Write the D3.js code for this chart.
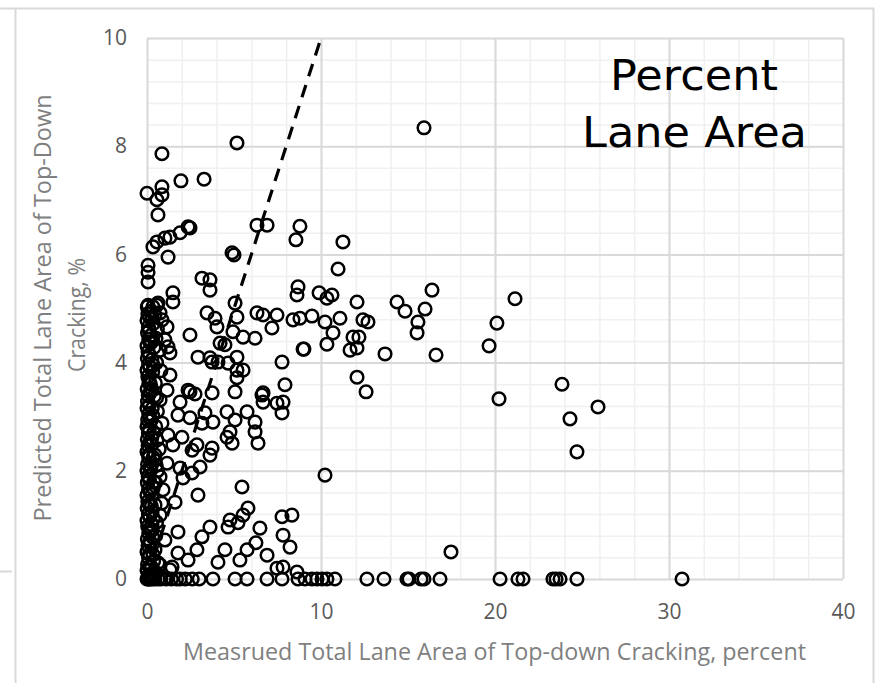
<!DOCTYPE html>
<html>
<head>
<meta charset="utf-8">
<script src="https://cdn.jsdelivr.net/npm/d3@7"></script>
<style>
  html, body { margin: 0; padding: 0; background: #fff; }
  svg { display: block; }
  .tick text { font-family: "Liberation Sans Narrow", "Open Sans", "Liberation Sans", sans-serif; fill: #595959; }
</style>
</head>
<body>
<svg id="chart" width="877" height="683"></svg>
<script>
// Measured vs predicted total lane area of top-down cracking (percent).
// Each entry is [measured %, predicted %].

// Tall, tightly packed column of sections with almost no measured cracking
const nearZeroMeasured = [
  [0.02,5.03],[0.05,4.9],[0.0,4.78],[0.08,4.66],[0.03,4.55],[0.1,4.43],[0.0,4.31],[0.06,4.2],
  [0.02,4.08],[0.09,3.97],[0.0,3.86],[0.05,3.74],[0.11,3.62],[0.01,3.51],[0.07,3.4],[0.03,3.28],
  [0.0,3.16],[0.1,3.05],[0.04,2.94],[0.0,2.82],[0.08,2.7],[0.02,2.58],[0.06,2.47],[0.0,2.35],
  [0.1,2.24],[0.03,2.12],[0.0,2.0],[0.07,1.9],[0.02,1.78],[0.09,1.66],[0.0,1.55],[0.05,1.43],
  [0.01,1.31],[0.08,1.2],[0.0,1.08],[0.04,0.97],[0.1,0.85],[0.02,0.74],[0.06,0.62],[0.0,0.5],
  [0.09,0.39],[0.03,0.27],[0.0,0.16],[0.07,0.06],
  [0.15,4.84],[0.13,4.6],[0.17,4.37],[0.14,4.14],[0.16,3.92],[0.12,3.68],[0.18,3.45],[0.14,3.22],
  [0.15,2.99],[0.13,2.76],[0.17,2.53],[0.12,2.3],[0.16,2.07],[0.14,1.84],[0.18,1.61],[0.13,1.38],
  [0.16,1.15],[0.12,0.92],[0.17,0.69],[0.14,0.46],[0.15,0.23],[0.12,0.08],
  [0.25,4.95],[0.35,4.72],[0.22,4.5],[0.4,4.28],[0.28,4.05],[0.33,3.83],[0.2,3.6],[0.42,3.38],
  [0.3,3.15],[0.24,2.93],[0.38,2.7],[0.27,2.48],[0.35,2.25],[0.22,2.02],[0.4,1.8],[0.3,1.57],
  [0.25,1.35],[0.37,1.12],[0.28,0.9],[0.2,0.67],[0.34,0.45],[0.26,0.22],[0.4,0.1],
  [0.3,4.83],[0.26,4.38],[0.36,3.95],[0.29,3.5],[0.33,3.02],[0.27,2.6],[0.31,2.14],[0.36,1.68],
  [0.29,1.24],[0.32,0.78],[0.38,0.33],
  [0.57,5.06],[0.75,4.92],[0.6,4.62],[1.03,4.42],[0.75,4.23],[0.55,4.0],[0.8,3.85],[1.15,3.49],
  [0.75,3.31],[0.6,3.1],[0.86,2.88],[0.57,2.57],[0.7,2.4],[0.46,2.29],[0.92,1.65],[0.6,2.0],
  [0.46,1.37],[0.75,1.18],[0.29,1.0],[1.03,0.72],[0.46,0.54],[0.75,0.26],[1.32,0.17],[1.03,0.02],
  [0.5,0.8],[0.85,1.4],[0.34,5.03],[0.63,5.1],[0.06,5.06],[0.46,4.88],[0.86,4.79],[1.15,4.66],
  [1.21,4.29],[1.32,4.18],[0.63,0.3],[1.44,0.22],
  [0.52,4.45],[0.48,3.62],[0.55,3.35],[0.5,2.82],[0.53,2.1],[0.49,1.78],[0.55,1.05],[0.52,0.12]
];

// Upper band: predictions above about 5 %
const upperBand = [
  [0.86,7.86],[1.95,7.36],[3.28,7.39],[5.17,8.06],[15.92,8.34],[0.86,7.25],[0.57,7.01],[0.86,7.1],
  [0.0,7.13],[0.63,6.73],[2.36,6.51],[2.47,6.49],[1.9,6.4],[1.32,6.32],[1.03,6.3],[0.57,6.23],
  [0.34,6.14],[1.21,5.95],[0.06,5.8],[0.06,5.67],[0.06,5.49],[6.32,6.54],[6.9,6.54],[8.79,6.52],
  [8.56,6.27],[4.89,6.03],[5.0,5.99],[3.16,5.56],[3.62,5.53],[3.62,5.34],[1.49,5.29],[1.49,5.12],
  [8.68,5.4],[8.62,5.25],[9.89,5.29],[10.34,5.19],[10.63,5.25],[11.26,6.23],[10.98,5.73],[12.07,5.12],
  [14.37,5.12],[14.83,4.95],[16.38,5.34],[15.98,4.99],[15.52,4.55],[15.57,4.75],[16.61,4.14],[21.15,5.18]
];

// Sections with measured cracking beyond 9 %
const highMeasured = [
  [20.11,4.73],[19.66,4.31],[20.23,3.33],[23.85,3.6],[24.31,2.96],[24.71,2.35],[25.92,3.18],
  [9.48,4.86],[8.79,4.82],[10.23,4.75],[11.09,4.82],[10.69,4.55],[10.34,4.34],[9.02,4.25],
  [11.67,4.23],[11.84,4.47],[12.18,4.47],[12.41,4.79],[12.7,4.75],[12.07,4.27],[13.68,4.16],
  [12.07,3.73],[12.59,3.46],[10.23,1.92],[17.47,0.5]
];

// Middle scatter: measured 1.5 % to 9 %
const midScatter = [
  [3.45,4.92],[3.91,4.82],[4.02,4.66],[5.06,5.1],[5.17,4.84],[6.32,4.92],[6.67,4.88],[7.47,4.88],
  [7.18,4.64],[8.39,4.79],[4.94,4.57],[5.52,4.47],[6.21,4.45],[2.47,4.51],[4.2,4.36],[4.48,4.33],
  [2.93,4.1],[3.62,4.09],[3.74,4.01],[4.08,4.01],[4.66,3.99],[5.17,4.1],[5.17,3.86],[5.52,3.86],
  [5.17,3.72],[7.76,4.01],[8.97,4.25],[1.32,3.77],[7.93,3.59],[5.06,3.46],[6.67,3.44],[3.74,3.44],
  [2.47,3.46],[2.76,3.42],[2.36,3.49],[6.61,3.4],[6.67,3.27],[7.47,3.25],[7.82,3.27],[7.76,3.07],
  [1.9,3.27],[1.78,3.03],[2.47,2.98],[3.33,3.07],[3.16,2.88],[3.79,2.9],[4.6,3.09],[5.06,2.94],
  [5.75,3.09],[6.21,2.9],[6.21,2.72],[6.38,2.51],[4.77,2.72],[4.6,2.62],[4.89,2.51],[3.74,2.42],
  [3.62,2.29],[2.87,2.48],[2.59,2.38],[1.49,2.48],[1.21,2.66],[2.01,2.62],[1.15,2.14],[1.9,2.05],
  [2.07,1.87],[2.59,1.96],[3.05,2.07],[0.75,1.89],[5.46,1.7],[2.93,1.55],[1.61,1.42],[5.8,1.31],
  [5.52,1.18],[5.23,1.04],[4.77,1.09],[4.66,0.96],[3.62,0.96],[3.16,0.78],[2.87,0.54],[2.36,0.35],
  [1.78,0.87],[1.78,0.48],[4.08,0.31],[4.48,0.54],[5.34,0.35],[5.75,0.54],[6.26,0.67],[6.49,0.94],
  [6.9,0.44],[7.82,0.81],[8.22,0.59],[7.76,1.15],[8.33,1.18],[7.47,0.2],[7.82,0.22],[8.62,0.13]
];

// Sections predicted at zero cracking
const zeroPredicted = [
  [0.0,0],[0.05,0],[0.12,0],[0.2,0],[0.3,0],[0.45,0],[0.63,0],[0.8,0],[1.1,0],[1.4,0],[1.7,0],
  [1.9,0],[2.2,0],[2.6,0],[3.0,0],[3.79,0],[5.06,0],[5.75,0],[6.9,0],[7.76,0],[8.68,0],[9.08,0],
  [9.48,0],[9.77,0],[10.06,0],[10.34,0],[10.8,0],[12.64,0],[13.62,0],[14.94,0],[15.06,0],[15.75,0],
  [15.92,0],[16.84,0],[20.29,0],[21.32,0],[21.61,0],[23.33,0],[23.51,0],[23.74,0],[24.71,0],[30.75,0]
];

const xTicks = [0, 10, 20, 30, 40];
const yTicks = [0, 2, 4, 6, 8, 10];
const xMinorStep = 2;
const yMinorStep = 0.4;
const equalityLine = [[0, 0], [10, 10]];

const xTitle = "Measrued Total Lane Area of Top-down Cracking, percent";
const yTitleLines = ["Predicted Total Lane Area of Top-Down", "Cracking, %"];
const panelTitle = ["Percent", "Lane Area"];

const svg = d3.select("#chart");
const W = 877, H = 683;
const plot = { left: 147, right: 843, top: 38, bottom: 579 };

const x = d3.scaleLinear().domain([0, 40]).range([plot.left, plot.right]);
const y = d3.scaleLinear().domain([0, 10]).range([plot.bottom, plot.top]);

// chart frame
svg.append("rect").attr("width", W).attr("height", H).attr("fill", "#fff");
svg.append("path")
  .attr("d", `M0,8.5 H873.5 V${H} M15.5,8.5 V${H}`)
  .attr("fill", "none").attr("stroke", "#d9d9d9").attr("stroke-width", 2);
svg.append("path")
  .attr("d", "M0,571.5 H12")
  .attr("fill", "none").attr("stroke", "#d9d9d9").attr("stroke-width", 2);

// minor grid
const xMinor = d3.range(0, 40 + 1e-9, xMinorStep);
const yMinor = d3.range(0, 10 + 1e-9, yMinorStep);
const grid = svg.append("g");
grid.append("g").attr("transform", `translate(0,${plot.top})`)
  .call(d3.axisTop(x).tickValues(xMinor).tickSize(-(plot.bottom - plot.top)).tickFormat(""))
  .call(g => g.select(".domain").remove())
  .call(g => g.selectAll("line").attr("stroke", "#f0f0f0").attr("stroke-width", 1.5));
grid.append("g").attr("transform", `translate(${plot.left},0)`)
  .call(d3.axisLeft(y).tickValues(yMinor).tickSize(-(plot.right - plot.left)).tickFormat(""))
  .call(g => g.select(".domain").remove())
  .call(g => g.selectAll("line").attr("stroke", "#f0f0f0").attr("stroke-width", 1.5));

// major grid
grid.append("g").attr("transform", `translate(0,${plot.top})`)
  .call(d3.axisTop(x).tickValues(xTicks).tickSize(-(plot.bottom - plot.top)).tickFormat(""))
  .call(g => g.select(".domain").remove())
  .call(g => g.selectAll("line").attr("stroke", "#d9d9d9").attr("stroke-width", 2));
grid.append("g").attr("transform", `translate(${plot.left},0)`)
  .call(d3.axisLeft(y).tickValues(yTicks).tickSize(-(plot.right - plot.left)).tickFormat(""))
  .call(g => g.select(".domain").remove())
  .call(g => g.selectAll("line").attr("stroke", "#d9d9d9").attr("stroke-width", 2));

// tick labels
svg.append("g").attr("transform", `translate(0,${plot.bottom})`)
  .call(d3.axisBottom(x).tickValues(xTicks).tickSize(0).tickPadding(25).tickFormat(d3.format("d")))
  .call(g => g.select(".domain").remove())
  .call(g => g.selectAll("text").attr("font-size", 21));
svg.append("g").attr("transform", `translate(${plot.left},0)`)
  .call(d3.axisLeft(y).tickValues(yTicks).tickSize(0).tickPadding(20).tickFormat(d3.format("d")))
  .call(g => g.select(".domain").remove())
  .call(g => g.selectAll("text").attr("font-size", 21));

// 1:1 line
const line = d3.line().x(d => x(d[0])).y(d => y(d[1]));
svg.append("path").datum(equalityLine)
  .attr("d", line)
  .attr("fill", "none").attr("stroke", "#000").attr("stroke-width", 3.2)
  .attr("stroke-dasharray", "13,9");

// markers
const allPoints = [].concat(nearZeroMeasured, upperBand, highMeasured, midScatter, zeroPredicted);
svg.append("g").selectAll("circle").data(allPoints).join("circle")
  .attr("cx", d => x(d[0])).attr("cy", d => y(d[1])).attr("r", 6.3)
  .attr("fill", "none").attr("stroke", "#000").attr("stroke-width", 2.5);

// axis titles
const labelFont = '"Liberation Sans Narrow", "Open Sans", "Liberation Sans", sans-serif';
svg.append("text")
  .attr("x", 494.5).attr("y", 660).attr("text-anchor", "middle")
  .attr("font-family", labelFont).attr("font-size", 23).attr("fill", "#7f7f7f")
  .attr("textLength", 623).attr("lengthAdjust", "spacingAndGlyphs")
  .text(xTitle);

const yt = svg.append("g").attr("transform", "translate(0,308) rotate(-90)");
yt.append("text").attr("x", 0).attr("y", 51).attr("text-anchor", "middle")
  .attr("font-family", labelFont).attr("font-size", 23).attr("fill", "#7f7f7f")
  .attr("textLength", 427).attr("lengthAdjust", "spacingAndGlyphs")
  .text(yTitleLines[0]);
yt.append("text").attr("x", -7).attr("y", 85).attr("text-anchor", "middle")
  .attr("font-family", labelFont).attr("font-size", 23).attr("fill", "#7f7f7f")
  .attr("textLength", 114).attr("lengthAdjust", "spacingAndGlyphs")
  .text(yTitleLines[1]);

// panel title
svg.append("text").attr("x", 694).attr("y", 90).attr("text-anchor", "middle")
  .attr("font-family", '"DejaVu Sans", sans-serif').attr("font-size", 42).attr("fill", "#000")
  .attr("textLength", 168).attr("lengthAdjust", "spacingAndGlyphs")
  .text(panelTitle[0]);
svg.append("text").attr("x", 694.5).attr("y", 147).attr("text-anchor", "middle")
  .attr("font-family", '"DejaVu Sans", sans-serif').attr("font-size", 42).attr("fill", "#000")
  .attr("textLength", 225).attr("lengthAdjust", "spacingAndGlyphs")
  .text(panelTitle[1]);
</script>
</body>
</html>
